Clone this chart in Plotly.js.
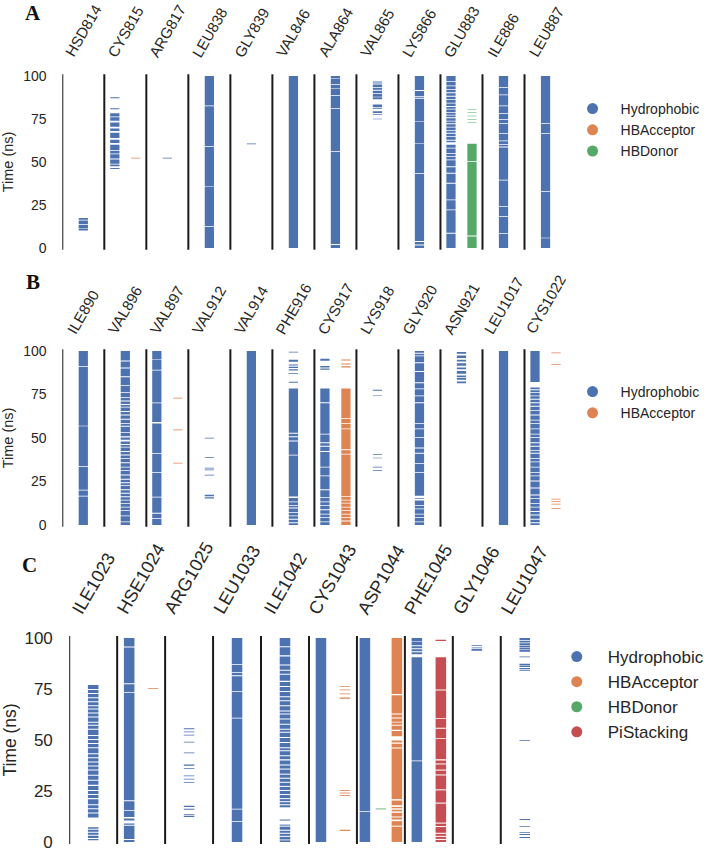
<!DOCTYPE html>
<html><head><meta charset="utf-8">
<script src="https://cdn.plot.ly/plotly-3.0.1.min.js"></script>
<style>html,body{margin:0;padding:0;background:#fff}#chart{width:709px;height:852px}
#chart .barlayer path{shape-rendering:geometricPrecision !important;}</style>
</head><body><div id="chart"></div>
<script>
// ---------------- DATA ----------------
const interactionTypes = ['Hydrophobic','HBAcceptor','HBDonor','PiStacking'];
const timeTicks = [0, 25, 50, 75, 100];

// Panel A
const residuesA = ['HSD814','CYS815','ARG817','LEU838','GLY839','VAL846','ALA864','VAL865','LYS866','GLU883','ILE886','LEU887'];
const hydrophobicA = [
  [[10.2,11],[11.3,13.5],[14,16],[16.4,17.5]],
  [[46,46.5],[47.5,48.5],[49,51.5],[52,54.5],[55,56.5],[57,60],[61,63],[64,67],[68,69.5],[70.5,73],[74,76],[76.5,78.3],[80.7,81.3],[87,87.6]],
  [[52,52.4]],
  [[0,12.2],[12.6,35.4],[35.8,58.7],[59.1,82.4],[82.8,100]],
  [[60.3,60.7]],
  [[0,100]],
  [[0,1.8],[2.3,55.8],[56.2,80.8],[81.3,88.5],[89,92.4],[92.8,94.8],[95.2,98.2],[98.6,100]],
  [[74.8,75.2],[77.3,77.8],[78.5,79.5],[81,81.5],[82,83.5],[86.5,87.7],[88,89.5],[90,91.5],[92,93],[93.5,95],[95.3,95.7],[96.3,96.8]],
  [[0,1.5],[2,3.5],[4,43.2],[43.6,60.7],[61.1,73.2],[73.6,86.8],[87.3,88],[88.4,91.3],[91.8,100]],
  [[0,8.3],[8.8,21.9],[22.4,27.7],[28.2,37.4],[37.9,43.2],[43.7,47],[47.5,51],[51.5,53],[53.5,54.8],[55.3,57.8],[58.3,60],[61.5,62.3],[63,64.5],[65,66.5],[67,68],[68.5,70],[70.5,72],[72.5,73.5],[74,75.5],[76,77],[77.5,78.5],[79,80.5],[81,82],[82.5,84],[84.5,86],[86.5,88],[88.5,90],[90.5,92],[92.5,94],[94.5,96.5],[97,100]],
  [[0,8.3],[8.7,18],[18.4,23.8],[24.2,39.3],[39.7,58.5],[59,60],[60.5,62],[62.5,66.5],[66.9,72.3],[72.7,74.6],[75,78.1],[78.5,82.4],[82.8,88.8],[89.2,93.2],[93.6,100]],
  [[0,5.6],[6,32.7],[33.1,66.5],[66.9,72.3],[72.7,100]]
];
const hbAcceptorA = [null,[[52,52.4]],null,null,null,null,null,null,null,null,null,null];
const hbDonorA = [null,null,null,null,null,null,null,null,null,
  [[0,6.7],[7.2,50],[50.4,60.6],[72.8,73.1],[74.7,75],[76.6,76.9],[78.6,78.9],[80.5,80.8]],
  null,null];

// Panel B
const residuesB = ['ILE890','VAL896','VAL897','VAL912','VAL914','PHE916','CYS917','LYS918','GLY920','ASN921','LEU1017','CYS1022'];
const hydrophobicB = [
  [[0,16.4],[16.8,19.8],[20.2,33.3],[33.7,56.7],[57.1,90.8],[91.2,100]],
  [[0,1.5],[2,5],[5.5,8],[8.5,10],[10.5,12],[12.5,14],[14.5,16],[16.5,18],[18.5,20],[20.5,22.5],[23,24],[24.5,26],[26.5,28.5],[29,31],[31.5,33],[33.5,35.5],[36,38],[38.5,40],[40.5,42],[42.5,44.5],[45,46],[46.5,48],[49,50.3],[51,53],[53.5,56.5],[57,58],[58.5,60.5],[61,63],[63.5,65],[65.5,67.5],[68,69],[69.5,71],[71.5,73],[73.5,76],[76.5,80],[80.5,85],[85.5,90],[90.5,94],[94.5,100]],
  [[0,3.5],[4,6.5],[7,15.8],[16.2,30],[30.4,41],[41.4,58.3],[59.2,70],[70.4,88.8],[89.2,94.8],[95.2,100]],
  [[15.2,15.9],[16.5,17.3],[28.4,28.8],[31.5,31.9],[32.5,32.9],[38.7,39.1],[49.7,50.1]],
  [[0,100]],
  [[0,1],[1.5,3],[3.5,5],[5.5,7],[7.5,9.5],[10,11],[11.5,13],[13.5,15.5],[16.3,40],[40.4,48],[48.5,50.5],[51,52.5],[53,78.4],[81.8,82.3],[86.8,87.3],[88.8,89.5],[90.3,91],[91.7,92.3],[93.8,95],[99.2,99.6]],
  [[0,1.5],[2,4],[4.5,6],[6.5,8.5],[9,11],[11.5,13],[13.5,15.5],[16,20],[20.5,28],[28.5,33],[33.5,42],[42.5,45],[45.5,47],[47.5,52],[52.5,70],[70.5,78.4],[89.3,90],[90.6,91.4],[94.4,95.6]],
  [[31.2,31.6],[33.1,33.5],[38.3,38.7],[40.2,40.6],[74.2,74.5],[77.2,77.7]],
  [[0,1.5],[2,4],[4.5,6],[6.5,9],[9.5,11],[11.5,14],[15,15.5],[16.8,30],[30.5,35],[35.5,41],[41.5,44],[44.5,50],[50.5,55],[55.5,58],[58.5,70],[70.5,74],[74.5,78],[78.5,81.5],[82,88],[88.5,93],[93.5,97],[97.5,98.5],[99,100]],
  [[81.5,82.5],[83.5,84.5],[85,86],[87,88.5],[89.5,90.5],[91.5,93],[94,95],[96,97.5],[98.5,99.5]],
  [[0,100]],
  [[0,1],[1.5,3],[3.5,5.5],[6,7.5],[8,10],[10.5,12],[12.5,15],[15.5,17],[17.5,21],[21.5,25],[25.5,28],[28.5,30],[30.5,33],[33.5,36],[36.5,38],[38.5,41],[41.5,42.5],[43,45],[45.5,47],[47.5,50],[50.5,52],[52.5,55],[55.5,58],[58.5,60],[60.5,63],[63.5,65.5],[66,68],[68.5,70],[70.5,72],[72.5,74],[74.5,76],[76.5,77.5],[78,79],[82.2,100]]
];
const hbAcceptorB = [null,null,
  [[35.3,35.7],[54.5,54.9],[72.7,73.1]],
  null,null,null,
  [[0,2],[2.5,4],[4.5,6],[6.5,8],[8.5,10],[10.5,12.3],[12.8,14],[14.5,16.2],[16.6,40.5],[41,43],[43.5,55],[55.5,58],[58.5,61],[61.5,78.4],[90.6,91.2],[92.2,92.8],[94.6,95.2]],
  null,null,null,null,
  [[9.3,9.7],[11.8,12.2],[13.2,13.6],[14.6,15],[92.1,92.5],[98.8,99.2]]
];

// Panel C
const residuesC = ['ILE1023','HSE1024','ARG1025','LEU1033','ILE1042','CYS1043','ASP1044','PHE1045','GLY1046','LEU1047'];
const hydrophobicC = [
  [[0.8,1.5],[2,3],[3.5,4.5],[5,6],[6.5,7.2],[12,14],[14.5,16],[16.5,18],[18.5,21],[21.5,23],[23.5,25],[25.5,27.5],[28,30],[30.5,32.5],[33,35],[35.5,37],[37.5,39],[39.5,41],[41.5,43],[43.5,46],[46.5,48],[48.5,50],[50.5,52],[52.5,55],[55.5,57],[57.5,58.5],[59,61],[61.5,63],[63.5,65],[65.5,66.5],[67,68.5],[69,70.5],[71,72.5],[73,74.5],[75,77]],
  [[0,1],[1.5,8],[8.5,9],[10.5,11.5],[12.2,15.2],[15.6,20],[20.4,73],[73.4,77.4],[77.8,95.4],[95.8,100]],
  [[12.2,12.8],[13.2,13.6],[15.8,16.3],[17.2,17.7],[29,29.4],[30.6,31],[32.2,32.6],[35.8,36.2],[37.4,38],[43.5,43.9],[48.8,49.2],[52.2,52.6],[53.8,54.2],[55.3,55.8]],
  [[0,9.8],[10.2,15.9],[16.3,60.5],[60.9,73.6],[74,81.3],[81.7,82.8],[83.2,86.8],[87.2,100]],
  [[0,0.8],[1.2,2.5],[3,4],[4.5,5.5],[6,7.5],[8,8.5],[10.5,11],[17,18],[18.5,19.5],[20,21],[21.5,23],[23.5,25],[25.5,27],[27.5,29],[29.5,31],[31.5,33],[33.5,35.5],[36,37.5],[38,40],[40.5,42],[42.5,44.5],[45,46],[46.5,48.5],[49,51],[51.5,53.5],[54,55],[55.5,57.5],[58,60],[60.5,62.5],[63,64],[64.5,66.5],[67,69],[69.5,71],[71.5,73.5],[74,76],[76.5,78.5],[79,82],[82.5,84],[84.5,86.5],[87,91],[91.5,95.5],[96,100]],
  [[0,100]],
  [[0,14.7],[15.1,100]],
  [[0,39.6],[40,90.6],[92,93],[93.5,94.5],[95,96],[96.5,98],[98.3,100]],
  [[93.8,94.6],[95,95.3],[96.2,96.6]],
  [[2,2.4],[3.4,3.9],[4.4,4.8],[7.3,7.7],[10.8,11.2],[49.5,49.9],[84,84.4],[84.8,85.3],[85.8,86.5],[86.8,87.4],[90.6,91],[93.3,94.2],[94.5,95.2],[95.5,96.2],[96.5,97.5],[97.8,98.7],[99,100]]
];
const hbAcceptorC = [null,[[75.1,75.5]],null,null,null,
  [[5.4,6],[22.6,23],[23.8,24.2],[25,25.4],[70.2,70.8],[72.4,72.8],[74.4,74.8],[76,76.4]],
  [[0,7.5],[8,10.2],[11,12],[12.5,14.3],[15,15.8],[16.5,17.2],[18,20.3],[21,45.8],[46.3,48.2],[48.8,49.8],[51.8,54.4],[55,57],[57.5,58.6],[59,60.5],[61,62.5],[63,72],[72.5,100]],
  null,null,null];
const hbDonorC = [null,null,null,null,null,null,[[16,16.4]],null,null,null];
const piStackingC = [null,null,null,null,null,null,null,
  [[0,1],[1.5,2.5],[3,4],[4.5,7.3],[7.8,9],[9.5,18.8],[19.3,25.3],[25.8,32.6],[33.1,35],[35.5,38],[38.5,40],[40.5,50.6],[51,55.5],[56,60.4],[60.8,74.3],[74.8,90.6],[98.6,99.1]],
  null,null];

// ---------------- STYLE / LAYOUT ----------------
const W = 709, H = 852;
const colors = {Hydrophobic:'#4c72b0', HBAcceptor:'#dd8452', HBDonor:'#55a868', PiStacking:'#c44e52'};
const dodgeOrder = ['Hydrophobic','HBDonor','HBAcceptor','PiStacking'];
const FONT = 'Liberation Sans, Arial, sans-serif';
const TXT = '#262626';

const panels = [
  {letter:'A', residues:residuesA, series:{Hydrophobic:hydrophobicA, HBAcceptor:hbAcceptorA, HBDonor:hbDonorA},
   xs:'x', ys:'y', leg:'legend', xpx:[63,573], ypx:[74.3,249.7], labelBottom:61, letterPos:[33,13],
   fs:14.5, labFs:15, legX:571, legY:93, itemW:46, legFs:14},
  {letter:'B', residues:residuesB, series:{Hydrophobic:hydrophobicB, HBAcceptor:hbAcceptorB},
   xs:'x2', ys:'y2', leg:'legend2', xpx:[63,573], ypx:[349.3,526.7], labelBottom:338, letterPos:[33,282],
   fs:14.5, labFs:15, legX:571, legY:376, itemW:46, legFs:14},
  {letter:'C', residues:residuesC, series:{Hydrophobic:hydrophobicC, HBAcceptor:hbAcceptorC, HBDonor:hbDonorC, PiStacking:piStackingC},
   xs:'x3', ys:'y3', leg:'legend3', xpx:[70,555], ypx:[636,844], labelBottom:619, letterPos:[30,565],
   fs:17.5, labFs:18, legX:552, legY:639, itemW:52, legFs:17}
];

const traces = [];
const layout = {
  width: W, height: H, margin:{l:0,r:0,t:0,b:0},
  paper_bgcolor:'#fff', plot_bgcolor:'#fff',
  barmode:'overlay', showlegend:true,
  font:{family:FONT, color:TXT},
  annotations:[], shapes:[]
};

panels.forEach((p, pi) => {
  const n = p.residues.length;
  const axN = pi === 0 ? '' : String(pi+1);
  interactionTypes.forEach(type => {
    const arr = p.series[type];
    if (!arr) return;
    const xs = [], bases = [], lens = [];
    p.residues.forEach((res, i) => {
      const segs = arr[i];
      if (!segs) return;
      const present = dodgeOrder.filter(t => p.series[t] && p.series[t][i]);
      const k = present.indexOf(type), m = present.length;
      const xpos = i - 0.5 + (k + 0.5) / m;
      segs.forEach(s => { xs.push(xpos); bases.push(s[0]); lens.push(s[1] - s[0]); });
    });
    traces.push({type:'bar', x:xs, y:lens, base:bases, width:0.22,
      marker:{color:colors[type], line:{width:0}}, showlegend:false, hoverinfo:'skip',
      xaxis:p.xs, yaxis:p.ys});
  });
  interactionTypes.forEach(type => {
    if (!p.series[type]) return;
    traces.push({type:'scatter', mode:'markers', x:[null], y:[null], name:type,
      marker:{color:colors[type], size:11}, legend:p.leg, xaxis:p.xs, yaxis:p.ys});
  });
  layout['xaxis'+axN] = {
    domain:[p.xpx[0]/W, p.xpx[1]/W], range:[-0.5, n-0.5], anchor:p.ys,
    showticklabels:false, showgrid:false, zeroline:false, showline:false, ticks:'', fixedrange:true
  };
  layout['yaxis'+axN] = {
    domain:[1 - p.ypx[1]/H, 1 - p.ypx[0]/H], range:[-1, 101], anchor:p.xs,
    tickvals:timeTicks, ticks:'outside', ticklen:12, tickcolor:'rgba(0,0,0,0)',
    showgrid:false, zeroline:false, showline:false, fixedrange:true,
    tickfont:{size:p.fs - 0.5, family:FONT, color:TXT},
    title:{text:'Time (ns)', font:{size:p.fs, family:FONT, color:TXT}, standoff:6}
  };
  layout[p.leg] = {
    x:p.legX/W, y:1 - p.legY/H, xanchor:'left', yanchor:'top',
    itemwidth:p.itemW, font:{size:p.legFs, family:FONT, color:TXT},
    bgcolor:'rgba(0,0,0,0)', borderwidth:0
  };
  p.residues.forEach((res, i) => {
    layout.shapes.push({type:'line', xref:p.xs, yref:p.ys+' domain', x0:i-0.5, x1:i-0.5, y0:0, y1:1,
      line:{color:'#1a1a1a', width:2}});
    layout.annotations.push({xref:p.xs, yref:'paper', x:i, y:1 - p.labelBottom/H,
      text:res, textangle:-60, showarrow:false, xanchor:'center', yanchor:'bottom',
      borderpad:0, font:{size:p.labFs, family:FONT, color:TXT}});
  });
  layout.annotations.push({xref:'paper', yref:'paper', x:p.letterPos[0]/W, y:1 - p.letterPos[1]/H,
    text:'<b>'+p.letter+'</b>', showarrow:false, xanchor:'center', yanchor:'middle',
    font:{size:21, family:'Liberation Serif, Times New Roman, serif', color:'#111'}});
});

Plotly.newPlot('chart', traces, layout, {staticPlot:true, displayModeBar:false});
</script></body></html>
